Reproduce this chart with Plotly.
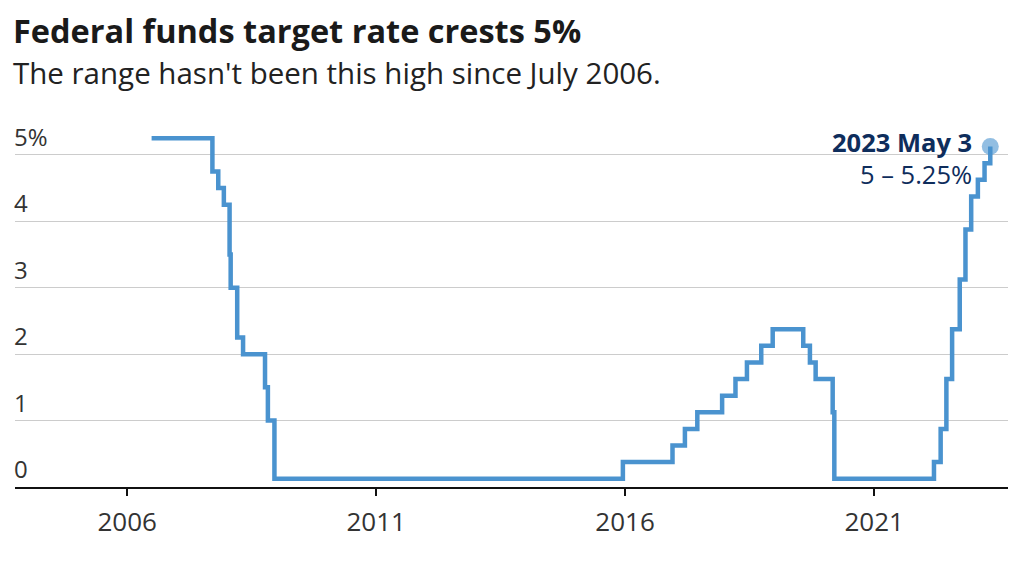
import plotly.graph_objects as go

# Federal funds target (single target until Dec 2008, midpoint of range afterwards)
dates = [
    "2006-06-29", "2007-09-18", "2007-10-31", "2007-12-11", "2008-01-22", "2008-01-30",
    "2008-03-18", "2008-04-30", "2008-10-08", "2008-10-29", "2008-12-16",
    "2015-12-16", "2016-12-14", "2017-03-15", "2017-06-14", "2017-12-13",
    "2018-03-21", "2018-06-13", "2018-09-26", "2018-12-19", "2019-07-31",
    "2019-09-18", "2019-10-30", "2020-03-03", "2020-03-15", "2022-03-16",
    "2022-05-04", "2022-06-15", "2022-07-27", "2022-09-21", "2022-11-02",
    "2022-12-14", "2023-02-01", "2023-03-22", "2023-05-03",
]
rates = [
    5.25, 4.75, 4.50, 4.25, 3.50, 3.00,
    2.25, 2.00, 1.50, 1.00, 0.125,
    0.375, 0.625, 0.875, 1.125, 1.375,
    1.625, 1.875, 2.125, 2.375, 2.125,
    1.875, 1.625, 1.125, 0.125, 0.375,
    0.875, 1.625, 2.375, 3.125, 3.875,
    4.375, 4.625, 4.875, 5.125,
]

y_tick_vals = [0, 1, 2, 3, 4, 5]
y_tick_text = ["0", "1", "2", "3", "4", "5%"]
x_tick_vals = ["2006-01-01", "2011-01-01", "2016-01-01", "2021-01-01"]
x_tick_text = ["2006", "2011", "2016", "2021"]

title_text = "Federal funds target rate crests 5%"
subtitle_text = "The range hasn't been this high since July 2006."
last_label_date = "2023 May 3"
last_label_range = "5 – 5.25%"

LINE = "#4a93cf"
NAVY = "#0e2d5c"
TEXT = "#333333"
FONT = "Open Sans"

fig = go.Figure()
fig.add_trace(go.Scatter(
    x=dates, y=rates, mode="lines", line_shape="hv",
    line=dict(color=LINE, width=4.5), hoverinfo="skip", showlegend=False,
))
fig.add_trace(go.Scatter(
    x=[dates[-1]], y=[rates[-1]], mode="markers",
    marker=dict(size=17, color="rgba(74,147,207,0.6)"),
    hoverinfo="skip", showlegend=False, cliponaxis=False,
))

# end label
fig.add_annotation(
    x=dates[-1], y=rates[-1], xref="x", yref="y",
    text="<b>" + last_label_date + "</b>", showarrow=False,
    xanchor="right", yanchor="middle", xshift=-16, yshift=5,
    font=dict(family=FONT, size=25.5, color=NAVY),
)
fig.add_annotation(
    x=dates[-1], y=rates[-1], xref="x", yref="y",
    text=last_label_range, showarrow=False,
    xanchor="right", yanchor="middle", xshift=-16, yshift=-27,
    font=dict(family=FONT, size=25.5, color=NAVY),
)

# y tick labels drawn above gridlines at the left edge
for v, t in zip(y_tick_vals, y_tick_text):
    fig.add_annotation(
        x=0, y=v, xref="paper", yref="y", text=t, showarrow=False,
        xanchor="left", yanchor="bottom", xshift=-3, yshift=0,
        font=dict(family=FONT, size=24, color=TEXT),
    )

# title and subtitle (plot top sits 125px from page top)
fig.add_annotation(
    x=0, y=1, xref="paper", yref="paper", text="<b>" + title_text + "</b>",
    showarrow=False, xanchor="left", yanchor="middle", xshift=-4, yshift=95,
    font=dict(family=FONT, size=32.5, color="#1a1a1a"),
)
fig.add_annotation(
    x=0, y=1, xref="paper", yref="paper", text=subtitle_text,
    showarrow=False, xanchor="left", yanchor="middle", xshift=-4, yshift=53,
    font=dict(family=FONT, size=29.5, color="#222222"),
)

fig.update_layout(
    width=1020, height=569,
    margin=dict(l=7, r=20, t=117, b=90),
    paper_bgcolor="white", plot_bgcolor="white",
    font=dict(family=FONT, size=23, color=TEXT),
)

fig.update_xaxes(
    type="date", range=["2003-10-01", "2023-09-10"],
    tickmode="array", tickvals=x_tick_vals, ticktext=x_tick_text,
    showgrid=False, showline=True, linecolor="#111111", linewidth=1.5,
    ticks="outside", ticklen=7, tickwidth=1.5, tickcolor="#111111",
    ticklabelstandoff=4,
    tickfont=dict(family=FONT, size=26, color=TEXT),
    zeroline=False, fixedrange=True,
)
fig.update_yaxes(
    range=[0, 5.45],
    tickmode="array", tickvals=y_tick_vals,
    showticklabels=False,
    showgrid=True, gridcolor="#cccccc", gridwidth=1,
    zeroline=False, showline=False, ticks="",
    fixedrange=True,
)

fig.write_html("out.html")
